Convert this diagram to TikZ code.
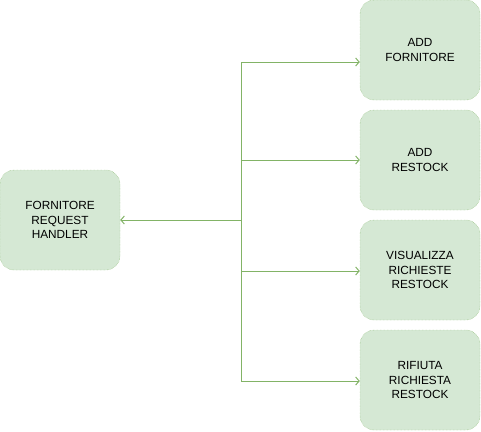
\documentclass[tikz,border=0pt]{standalone}
\usepackage{fontspec}
\setmainfont{Liberation Sans}
\usetikzlibrary{arrows.meta}

\definecolor{boxfill}{HTML}{D5E8D4}
\definecolor{boxline}{HTML}{82B366}

\tikzset{
  box/.style={draw=boxline, densely dotted, fill=boxfill, rounded corners=14pt,
    minimum width=120pt, minimum height=100pt, align=center,
    font=\fontsize{11.8}{14.5}\selectfont, text=black},
  link/.style={draw=boxline, line width=1pt, -{Straight Barb[length=3.5pt,width=8pt]}}
}

\begin{document}
\begin{tikzpicture}[x=1pt, y=-1pt]
  % Page size
  \useasboundingbox (0, 0) rectangle (481, 431);

  % The handler and its actions
  \node[box] (handler) at (60, 220) {FORNITORE\\REQUEST\\HANDLER};
  \node[box] (addforn) at (420, 50) {ADD\\FORNITORE};
  \node[box] (addrest) at (420, 160) {ADD\\RESTOCK};
  \node[box] (visrich) at (420, 270) {VISUALIZZA\\RICHIESTE\\RESTOCK};
  \node[box] (rifrich) at (420, 380) {RIFIUTA\\RICHIESTA\\RESTOCK};

  % Split point
  \coordinate (split) at (241, 220);

  % Connections
  \draw[link] (split) -- (handler.east);
  \draw[link] (split) |- ([yshift=-12pt]addforn.west);
  \draw[link] (split) |- (addrest.west);
  \draw[link] (split) |- ([yshift=-1pt]visrich.west);
  \draw[link] (split) |- ([yshift=-1pt]rifrich.west);
\end{tikzpicture}
\end{document}
